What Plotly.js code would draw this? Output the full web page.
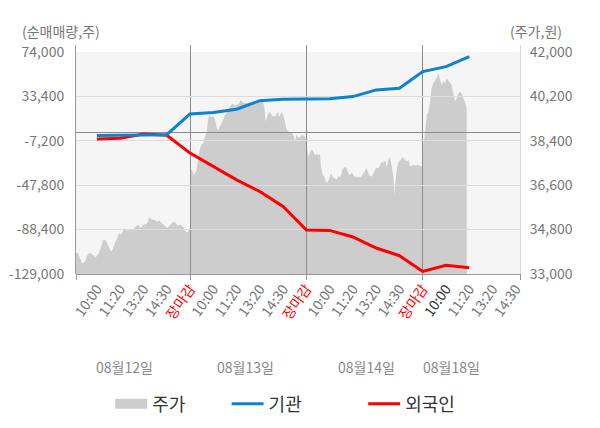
<!DOCTYPE html>
<html>
<head>
<meta charset="utf-8">
<script src="https://cdn.plot.ly/plotly-3.0.1.min.js"></script>
<style>
  html, body { margin: 0; padding: 0; background: #fff; }
  #graph { width: 600px; height: 428px; }
</style>
</head>
<body>
<div id="graph"></div>
<script>
// Net buying by investor type vs. intraday share price, 4 sessions.

const tickLabels = [
  "10:00", "11:20", "13:20", "14:30", "장마감",
  "10:00", "11:20", "13:20", "14:30", "장마감",
  "10:00", "11:20", "13:20", "14:30", "장마감",
  "10:00", "11:20", "13:20", "14:30",
];
const dayLabels = ["08월12일", "08월13일", "08월14일", "08월18일"];
const dayLabelSlots = [2.2, 7.4, 12.6, 16.25];
const dayCloseSlots = [5, 10, 15];

// net volume (shares) at each time slot
const lineSlots = [1, 2, 3, 4, 5, 6, 7, 8, 9, 10, 11, 12, 13, 14, 15, 16, 17];
const instNet = [-2600, -2300, -2000, -1800, 17200, 18400, 21500, 29300, 30600,
  30600, 31100, 33000, 39100, 40600, 55800, 60300, 69400];
const foreignNet = [-5800, -5000, -1200, -2300, -18600, -30900, -43000, -53700,
  -67300, -88800, -89200, -95200, -105300, -112300, -126600, -121100, -123200];

// intraday price (won)
const priceSlots = [
  0.10, 0.20, 0.27, 0.37, 0.49, 0.58, 0.67, 0.77, 0.87, 0.96, 1.06, 1.16, 1.27,
  1.35, 1.44, 1.56, 1.63, 1.73, 1.85, 1.96, 2.06, 2.13, 2.20, 2.30, 2.42, 2.56,
  2.68, 2.78, 2.88, 2.99, 3.14, 3.25, 3.35, 3.45, 3.57, 3.68, 3.78, 3.92, 4.02,
  4.14, 4.24, 4.35, 4.45, 4.57, 4.71, 4.83, 4.92, 5.00,
  5.04, 5.10, 5.17, 5.26, 5.33, 5.43, 5.50, 5.57, 5.64, 5.72, 5.78, 5.86, 5.93,
  6.00, 6.07, 6.15, 6.21, 6.29, 6.36, 6.43, 6.50, 6.57, 6.64, 6.76, 6.86, 6.93,
  7.00, 7.10, 7.19, 7.29, 7.39, 7.48, 7.58, 7.65, 7.72, 7.82, 7.93, 8.05, 8.12,
  8.19, 8.25, 8.34, 8.39, 8.48, 8.58, 8.68, 8.77, 8.84, 8.94, 9.01, 9.08, 9.15,
  9.25, 9.34, 9.44, 9.51, 9.58, 9.68, 9.80, 9.91, 9.97,
  10.01, 10.08, 10.16, 10.23, 10.30, 10.37, 10.44, 10.51, 10.58, 10.63, 10.70,
  10.77, 10.84, 10.92, 10.98, 11.06, 11.13, 11.20, 11.30, 11.37, 11.47, 11.56,
  11.66, 11.73, 11.80, 11.87, 11.95, 12.02, 12.09, 12.19, 12.30, 12.42, 12.52,
  12.59, 12.66, 12.73, 12.81, 12.90, 12.99, 13.09, 13.16, 13.24, 13.30, 13.38,
  13.45, 13.52, 13.59, 13.67, 13.73, 13.79, 13.85, 13.91, 13.98, 14.05, 14.14,
  14.21, 14.31, 14.38, 14.45, 14.52, 14.59, 14.71, 14.81, 14.91, 15.00,
  15.02, 15.07, 15.13, 15.17, 15.24, 15.31, 15.38, 15.45, 15.53, 15.60, 15.67,
  15.74, 15.81, 15.88, 15.96, 16.03, 16.10, 16.17, 16.24, 16.31, 16.39, 16.46,
  16.53, 16.60, 16.67, 16.74, 16.81, 16.89,
];
const price = [
  33870, 33820, 33650, 33420, 33510, 33740, 33850, 33820, 33740, 33690, 33820,
  34050, 34390, 34390, 34250, 33980, 33910, 34120, 34390, 34660, 34590, 34790,
  34860, 34760, 34790, 34820, 34920, 34990, 34860, 34990, 35030, 35300, 35220,
  35200, 35130, 35170, 35060, 34950, 34860, 34950, 35090, 35130, 34950, 34990,
  34920, 34680, 34720, 34860,
  37250, 37150, 37010, 37150, 37620, 38090, 38230, 38300, 38560, 38770, 39310,
  39440, 39350, 39400, 39240, 38900, 38830, 38970, 39100, 39240, 39440, 39510,
  39640, 39850, 39890, 39800, 39850, 39890, 40050, 39910, 39940, 39910, 39940,
  39780, 39980, 39940, 39980, 40050, 39980, 39780, 39170, 39440, 39570, 39480,
  39370, 39400, 39570, 39370, 39570, 39440, 39100, 38830, 38770, 38730, 38630,
  38360, 38630, 38500, 38630, 38590, 38500,
  38300, 37750, 37890, 38050, 37960, 37820, 37860, 37820, 37860, 37350, 37010,
  36950, 36740, 36700, 36880, 37080, 36920, 36880, 36840, 36950, 36950, 37250,
  37330, 37290, 37080, 37010, 37110, 37010, 36950, 36920, 36920, 37010, 37150,
  37290, 37080, 36970, 36950, 37150, 37290, 37290, 37380, 37550, 37490, 37620,
  37350, 37620, 37750, 37350, 37010, 36210, 37010, 37350, 37550, 37620, 37750,
  37650, 37550, 37620, 37380, 37350, 37420, 37380, 37420, 37350, 37380,
  38360, 38500, 39040, 39440, 39570, 39910, 40520, 40720, 40830, 40920, 41130,
  40920, 40650, 40790, 40720, 40920, 40830, 40720, 40650, 40320, 39980, 40120,
  40320, 40380, 40320, 40120, 39980, 39710,
];

const netTicks = [74000, 33400, -7200, -47800, -88400, -129000];
const priceTicks = [33000, 34800, 36600, 38400, 40200, 42000];

const FONT = "'Noto Sans CJK KR', 'Noto Sans', sans-serif";
const GRAY = "#777";
const xRange = [0.1, 19.18];
const netRange = [-129000, 80100];
const priceRange = [33000, 42271];
const NBSP = "\u00a0";

function fmt(v) {
  return v.toLocaleString("en-US");
}

function styledTick(label, i) {
  if (label === "장마감") return '<span style="color:#ff0000">' + label + "</span>";
  if (i === 15) return '<span style="color:#333">' + label + "</span>";
  return label;
}

const priceTrace = {
  x: priceSlots,
  y: price,
  xaxis: "x",
  yaxis: "y",
  type: "scatter",
  mode: "lines",
  fill: "tozeroy",
  fillcolor: "#cdcdcd",
  line: { width: 0, color: "#cdcdcd" },
  showlegend: false,
  hoverinfo: "skip",
};

// legend swatch for the price area
const priceLegend = {
  x: [null],
  y: [null],
  xaxis: "x",
  yaxis: "y",
  type: "scatter",
  mode: "lines",
  name: "주가" + NBSP.repeat(9),
  line: { width: 16, color: "#cdcdcd" },
  legendrank: 1,
};

const foreignTrace = {
  x: lineSlots,
  y: foreignNet,
  xaxis: "x2",
  yaxis: "y2",
  type: "scatter",
  mode: "lines",
  name: "외국인",
  line: { width: 3, color: "#ff0000" },
  legendrank: 3,
};

const instTrace = {
  x: lineSlots,
  y: instNet,
  xaxis: "x3",
  yaxis: "y3",
  type: "scatter",
  mode: "lines",
  name: "기관" + NBSP.repeat(14),
  line: { width: 3, color: "#0a84d0" },
  legendrank: 2,
};

const layout = {
  width: 600,
  height: 428,
  margin: { l: 76, r: 80, t: 45, b: 154, autoexpand: false },
  paper_bgcolor: "#fff",
  plot_bgcolor: "rgba(0,0,0,0)",
  font: { family: FONT, size: 14, color: GRAY },
  showlegend: true,
  legend: {
    orientation: "h",
    x: 0.077,
    xanchor: "left",
    y: -0.568,
    yanchor: "middle",
    font: { family: FONT, size: 18, color: "#333" },
    itemwidth: 32,
    traceorder: "normal",
  },
  // area subplot: time axis with day ticks, price on the right
  xaxis: {
    domain: [0, 1],
    anchor: "y",
    range: xRange,
    tickvals: [xRange[0], ...dayCloseSlots, xRange[1]],
    ticks: "outside",
    ticklen: 5,
    tickcolor: "#999",
    showticklabels: false,
    showgrid: false,
    zeroline: false,
    showline: true,
    linecolor: "#999",
    linewidth: 1,
  },
  yaxis: {
    domain: [0, 1],
    anchor: "x",
    side: "right",
    range: priceRange,
    tickvals: priceTicks,
    ticktext: priceTicks.map(fmt),
    ticks: "",
    ticklabelstandoff: 6,
    showgrid: false,
    zeroline: false,
    showline: true,
    linecolor: "#d6d6d6",
    linewidth: 1,
  },
  // line subplot: net volume on the left
  xaxis2: {
    domain: [0, 1],
    anchor: "y2",
    range: xRange,
    tickvals: tickLabels.map((_, i) => i + 1),
    ticktext: tickLabels.map(styledTick),
    tickangle: -55,
    ticks: "",
    ticklabelstandoff: 3,
    tickfont: { family: FONT, size: 14, color: GRAY },
    showgrid: false,
    zeroline: false,
    showline: false,
  },
  yaxis2: {
    domain: [0, 1],
    anchor: "x2",
    side: "left",
    range: netRange,
    tickvals: netTicks,
    ticktext: netTicks.map(fmt),
    ticks: "",
    ticklabelstandoff: 8,
    showgrid: false,
    zeroline: true,
    zerolinecolor: "#8c8c8c",
    zerolinewidth: 1,
    showline: true,
    linecolor: "#999",
    linewidth: 1,
  },
  // overlays carrying the grid lines drawn above the price area
  xaxis3: {
    overlaying: "x2",
    anchor: "y3",
    range: xRange,
    tickvals: dayCloseSlots,
    showticklabels: false,
    ticks: "",
    showgrid: true,
    gridcolor: "#8c8c8c",
    gridwidth: 1,
    zeroline: false,
    showline: false,
  },
  yaxis3: {
    overlaying: "y2",
    anchor: "x3",
    range: netRange,
    tickvals: netTicks.slice(1, -1),
    showticklabels: false,
    ticks: "",
    showgrid: true,
    gridcolor: "#dcdcdc",
    gridwidth: 1,
    zeroline: false,
    showline: false,
  },
  shapes: [
    {
      type: "rect",
      xref: "paper",
      yref: "y2",
      x0: 0,
      x1: 1,
      y0: netRange[0],
      y1: netTicks[0],
      fillcolor: "#f5f5f5",
      line: { width: 0 },
      layer: "below",
    },
  ],
  annotations: [
    {
      xref: "paper", yref: "paper", x: -0.034, y: 1.062,
      xanchor: "center", yanchor: "middle",
      text: "(순매매량,주)", showarrow: false,
      font: { family: FONT, size: 14, color: GRAY },
    },
    {
      xref: "paper", yref: "paper", x: 1.036, y: 1.062,
      xanchor: "center", yanchor: "middle",
      text: "(주가,원)", showarrow: false,
      font: { family: FONT, size: 14, color: GRAY },
    },
    ...dayLabels.map((d, i) => ({
      xref: "x2", yref: "paper", x: dayLabelSlots[i], y: -0.406,
      xanchor: "center", yanchor: "middle",
      text: d, showarrow: false,
      font: { family: FONT, size: 14, color: "#888" },
    })),
  ],
};

const config = { staticPlot: true, responsive: false };

Plotly.newPlot("graph", [priceTrace, priceLegend, foreignTrace, instTrace], layout, config);
</script>
</body>
</html>
